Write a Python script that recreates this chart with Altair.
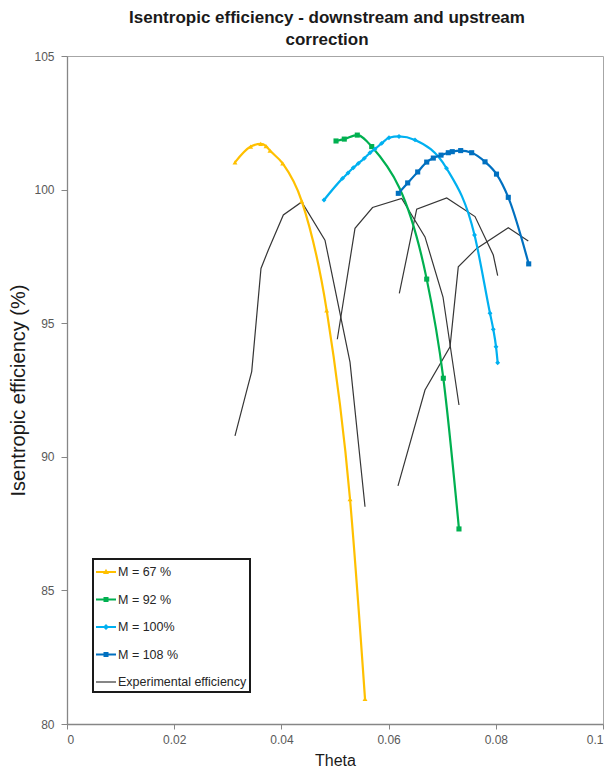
import altair as alt
import pandas as pd

series_names = ["M = 67 %", "M = 92 %", "M = 100%", "M = 108 %", "Experimental efficiency"]
series_colors = ["#FFC000", "#00B050", "#00B0F0", "#0070C0", "#363636"]

m67_theta = [0.03134, 0.03427, 0.03614, 0.03713, 0.03787, 0.04024, 0.04379, 0.04845, 0.05280, 0.05560]
m67_eff = [101.02, 101.61, 101.71, 101.63, 101.46, 100.98, 99.57, 95.48, 88.42, 80.94]

m92_theta = [0.05019, 0.05173, 0.05416, 0.05685, 0.06711, 0.07021, 0.07313]
m92_eff = [101.82, 101.89, 102.04, 101.61, 96.65, 92.94, 87.30]

m100_theta = [0.04795, 0.05140, 0.05243, 0.05341, 0.05435, 0.05547, 0.05653, 0.05746, 0.05871,
              0.06007, 0.06194, 0.06493, 0.07080, 0.07603, 0.07892, 0.07953, 0.08004, 0.08035]
m100_eff = [99.61, 100.42, 100.62, 100.82, 100.98, 101.17, 101.38, 101.52, 101.73,
            101.94, 101.99, 101.86, 100.80, 98.30, 95.37, 94.77, 94.12, 93.52]

m108_theta = [0.06181, 0.06356, 0.06543, 0.06711, 0.06834, 0.06978, 0.07114, 0.07188, 0.07345,
              0.07550, 0.07799, 0.08013, 0.08233, 0.08614]
m108_eff = [99.86, 100.25, 100.66, 101.03, 101.18, 101.29, 101.38, 101.42, 101.46,
            101.38, 101.04, 100.58, 99.71, 97.22]

exp1_theta = [0.03134, 0.03371, 0.03446, 0.03619, 0.03756, 0.04036, 0.04379, 0.04813, 0.05280, 0.05560]
exp1_eff = [90.78, 92.62, 93.19, 97.05, 97.74, 99.05, 99.54, 98.11, 93.54, 88.13]

exp2_theta = [0.05043, 0.05373, 0.05700, 0.06244, 0.06679, 0.07015, 0.07313]
exp2_eff = [94.40, 98.55, 99.33, 99.67, 98.23, 95.98, 91.94]

exp3_theta = [0.06200, 0.06524, 0.07084, 0.07612, 0.07953, 0.08035]
exp3_eff = [96.12, 99.27, 99.69, 98.99, 97.55, 96.78]

exp4_theta = [0.06175, 0.06679, 0.07146, 0.07300, 0.07644, 0.08233, 0.08606]
exp4_eff = [88.91, 92.50, 94.12, 97.11, 97.80, 98.57, 98.08]

x_ticks = [0, 0.02, 0.04, 0.06, 0.08, 0.1]
y_ticks = [80, 85, 90, 95, 100, 105]

rows = []
def add(series, curve, th, ef):
    for i, (t, e) in enumerate(zip(th, ef)):
        rows.append({"series": series, "curve": curve, "idx": i, "theta": t, "eff": e})

add(series_names[0], "m67", m67_theta, m67_eff)
add(series_names[1], "m92", m92_theta, m92_eff)
add(series_names[2], "m100", m100_theta, m100_eff)
add(series_names[3], "m108", m108_theta, m108_eff)
add(series_names[4], "exp1", exp1_theta, exp1_eff)
add(series_names[4], "exp2", exp2_theta, exp2_eff)
add(series_names[4], "exp3", exp3_theta, exp3_eff)
add(series_names[4], "exp4", exp4_theta, exp4_eff)
df = pd.DataFrame(rows)

FONT = "Liberation Sans"
color_scale = alt.Scale(domain=series_names, range=series_colors)

x_enc = alt.X("theta:Q", scale=alt.Scale(domain=[0, 0.1], nice=False, zero=False),
              axis=alt.Axis(title="Theta", values=x_ticks, format="~g", grid=False,
                            tickSize=5, labelPadding=5, titlePadding=7,
                            titleFontSize=16, titleFontWeight="normal"))
y_enc = alt.Y("eff:Q", scale=alt.Scale(domain=[80, 105], nice=False, zero=False),
              axis=alt.Axis(title="Isentropic efficiency (%)", values=y_ticks, grid=False,
                            tickSize=6, labelPadding=7, titlePadding=5,
                            titleFontSize=20, titleFontWeight="normal"))

# one legend definition shared by every channel that encodes "series" (they merge)
leg = alt.Legend(title=None, orient="none", legendX=26, legendY=503, padding=3,
                 rowPadding=10.5, labelOffset=2, symbolSize=400, symbolStrokeWidth=0,
                 symbolOpacity=1,
                 labelFont=FONT, labelFontSize=12.5, labelColor="#262626",
                 strokeColor="#1a1a1a")

base = alt.Chart(df)

colored_lines = base.transform_filter(
    alt.datum.series != "Experimental efficiency"
).mark_line(strokeWidth=2.2, interpolate="monotone", clip=True).encode(
    x=x_enc, y=y_enc,
    color=alt.Color("series:N", scale=color_scale, legend=leg),
    detail="curve:N", order="idx:Q",
)

exp_lines = base.transform_filter(
    alt.datum.series == "Experimental efficiency"
).mark_line(strokeWidth=1.2, clip=True).encode(
    x=x_enc, y=y_enc,
    color=alt.Color("series:N", scale=color_scale, legend=leg),
    detail="curve:N", order="idx:Q",
)

marker_specs = [(series_names[0], "triangle-up", 24), (series_names[1], "square", 26),
                (series_names[2], "diamond", 24), (series_names[3], "square", 26)]
marker_layers = []
for name, shp, sz in marker_specs:
    marker_layers.append(
        base.transform_filter(alt.datum.series == name).mark_point(
            shape=shp, size=sz, filled=True, opacity=1, clip=True).encode(
            x=x_enc, y=y_enc,
            color=alt.Color("series:N", scale=color_scale, legend=leg),
        )
    )

legend_paths = [
    "M-1,-0.1L1,-0.1L1,0.1L-1,0.1Z M0,-0.32L0.3,0.2L-0.3,0.2Z",
    "M-1,-0.1L1,-0.1L1,0.1L-1,0.1Z M-0.25,-0.25L0.25,-0.25L0.25,0.25L-0.25,0.25Z",
    "M-1,-0.1L1,-0.1L1,0.1L-1,0.1Z M0,-0.3L0.3,0L0,0.3L-0.3,0Z",
    "M-1,-0.1L1,-0.1L1,0.1L-1,0.1Z M-0.25,-0.25L0.25,-0.25L0.25,0.25L-0.25,0.25Z",
    "M-1,-0.06L1,-0.06L1,0.06L-1,0.06Z",
]

# invisible helper layer: only supplies the line+marker legend symbols
legend_layer = base.transform_filter(alt.datum.idx == 0).mark_point(
    filled=True, opacity=0).encode(
    x=x_enc, y=y_enc,
    fill=alt.Fill("series:N", scale=alt.Scale(domain=series_names, range=series_colors), legend=leg),
    shape=alt.Shape("series:N", scale=alt.Scale(domain=series_names, range=legend_paths), legend=leg),
)

chart = alt.layer(exp_lines, colored_lines, *marker_layers, legend_layer).properties(
    width=536, height=668,
    padding={"left": 59, "top": 48, "right": 1, "bottom": 46},
    autosize=alt.AutoSizeParams(type="none"),
    title=alt.TitleParams(
        text=["Isentropic efficiency - downstream and upstream", "correction"],
        font=FONT, fontSize=17, fontWeight="bold", color="#1a1a1a",
        lineHeight=22, anchor="middle", dx=-8, offset=1,
    ),
).configure_view(
    stroke="#A6A6A6", strokeWidth=1
).configure_axis(
    labelFont=FONT, titleFont=FONT, labelFontSize=12, labelColor="#595959",
    titleColor="#1a1a1a", domainColor="#868686", tickColor="#868686", domainWidth=1.3
).configure_legend(
    strokeWidth=2
)

chart.save("out.html", embed_options={"renderer": "svg", "actions": False})
